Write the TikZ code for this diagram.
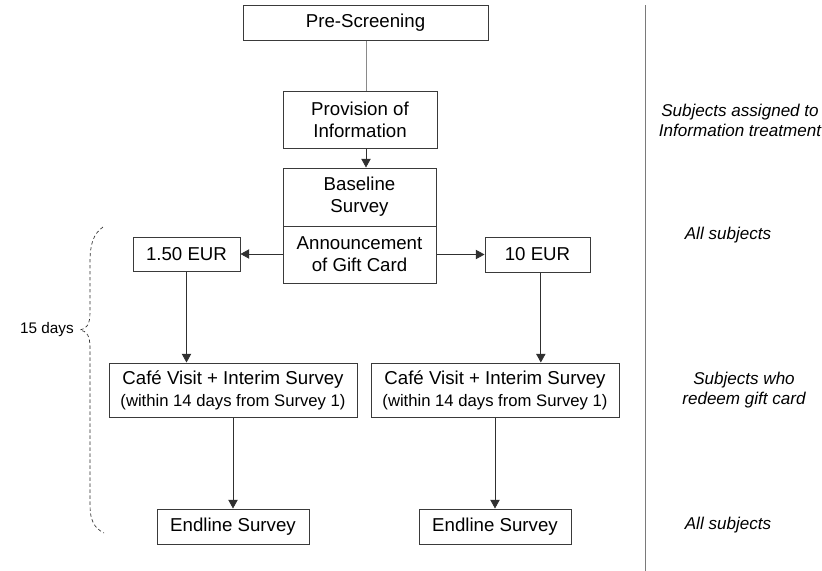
\documentclass[tikz,border=0pt]{standalone}
\usepackage{fontspec}
\setmainfont{Liberation Sans}
\usetikzlibrary{arrows.meta}
\definecolor{boxc}{HTML}{3A3A3A}
\definecolor{linec}{HTML}{303030}
\definecolor{lightc}{HTML}{8A8A8A}
\definecolor{divc}{HTML}{7A7A7A}
\tikzset{
  box/.style={draw=boxc, line width=0.75pt, fill=white, inner sep=0pt, align=center,
    font=\fontsize{14}{16.5}\selectfont},
  conn/.style={draw=linec, line width=0.55pt, -{Triangle[length=6.5pt,width=7pt]}},
  plain/.style={draw=lightc, line width=0.6pt},
  side/.style={align=center, font=\fontsize{12.8}{15}\selectfont\itshape},
  bracec/.style={draw=linec, line width=0.5pt, dash pattern=on 2.5pt off 2pt}
}
\begin{document}
\begin{tikzpicture}[x=0.75pt,y=-0.75pt]
\useasboundingbox (0,0) rectangle (822,571);
\fill[white] (0,0) rectangle (822,571);

\node[box, minimum width=183.75pt, minimum height=26.25pt] (pre) at (365.5,22.5) {Pre-Screening};
\node[box, minimum width=115.5pt, minimum height=42.75pt] (prov) at (360,119.5) {Provision of\\Information};
\node[box, minimum width=114.75pt, minimum height=43.5pt] (base) at (359.5,197) {Baseline\\Survey};
\node[box, minimum width=114.75pt, minimum height=42.75pt] (ann) at (359.5,254.5) {Announcement\\of Gift Card};
\node[box, minimum width=80.25pt, minimum height=25.5pt] (eura) at (186.5,254) {1.50 EUR};
\node[box, minimum width=78.75pt, minimum height=26.25pt] (eurb) at (537.5,254.5) {10 EUR};
\node[box, minimum width=186pt, minimum height=40.5pt] (cafea) at (233,390)
  {Café Visit + Interim Survey\\{\fontsize{12.5}{15}\selectfont (within 14 days from Survey 1)}};
\node[box, minimum width=186pt, minimum height=40.5pt] (cafeb) at (495,390)
  {Café Visit + Interim Survey\\{\fontsize{12.5}{15}\selectfont (within 14 days from Survey 1)}};
\node[box, minimum width=114pt, minimum height=26.25pt] (enda) at (233,526.5) {Endline Survey};
\node[box, minimum width=114pt, minimum height=26.25pt] (endb) at (495,526.5) {Endline Survey};

% connectors
\coordinate (preb) at ([xshift=0.5pt]pre.south);
\draw[plain] (preb) -- (preb |- prov.north);
\coordinate (provb) at ([xshift=4.5pt]prov.south);
\draw[conn] (provb) -- (provb |- base.north);
\draw[conn] (ann.west |- eura.east) -- (eura.east);
\draw[conn] (ann.east |- eurb.west) -- (eurb.west);
\coordinate (eurab) at (eura.south);
\draw[conn] (eurab) -- (eurab |- cafea.north);
\coordinate (eurbb) at ([xshift=2.5pt]eurb.south);
\draw[conn] (eurbb) -- (eurbb |- cafeb.north);
\draw[conn] (cafea.south) -- (enda.north);
\draw[conn] (cafeb.south) -- (endb.north);

% divider
\coordinate (dtop) at (645,5);
\coordinate (dbot) at (645,571);
\draw[draw=divc, line width=0.7pt] (dtop) -- (dbot);

% side labels
\node[side] (l1) at (740,120) {Subjects assigned to\\Information treatment};
\node[side] (l2) at (728,235) {All subjects};
\node[side] (l3) at (744,390) {Subjects who\\redeem gift card};
\node[side] (l4) at (728,525) {All subjects};

% brace
\coordinate (btop) at (103,227);
\coordinate (btip) at (80,330);
\coordinate (bbot) at (104,533);
\draw[bracec] (btop) .. controls (93,234) and (90,245) .. (90,262) -- (90,312)
  .. controls (90,324) and (87,329) .. (btip)
  .. controls (87,331) and (90,336) .. (90,348) -- (90,505)
  .. controls (90,520) and (94,528) .. (bbot);
\node[font=\fontsize{11.5}{14}\selectfont] (days) at (47,330) {15 days};
\end{tikzpicture}
\end{document}
